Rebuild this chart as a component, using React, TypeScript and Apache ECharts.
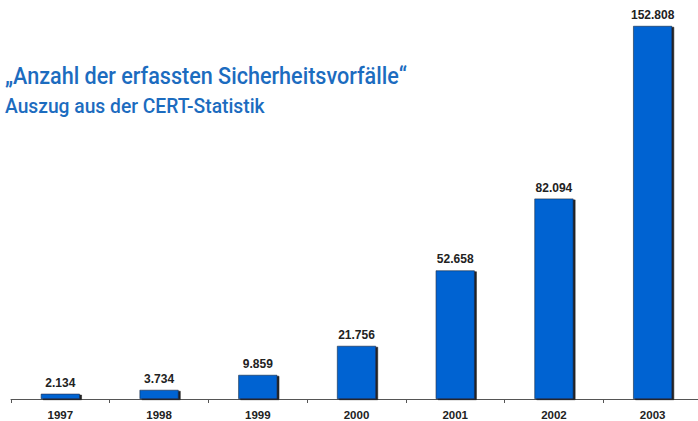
import React, { useEffect, useRef } from "react";
import * as echarts from "echarts";

const categories = ["1997", "1998", "1999", "2000", "2001", "2002", "2003"];
const incidents = [2134, 3734, 9859, 21756, 52658, 82094, 152808];
const titleLine1 = "„Anzahl der erfassten Sicherheitsvorfälle“";
const titleLine2 = "Auszug aus der CERT-Statistik";

const fmt = (v: number) => String(v).replace(/\B(?=(\d{3})+(?!\d))/g, ".");

const TITLE_FONT = "Roboto, 'DejaVu Sans Condensed', sans-serif";

function measure(text: string, size: number, weight: number | string) {
  const c = document.createElement("canvas").getContext("2d");
  if (!c) return text.length * size * 0.5;
  c.font = `${weight} ${size}px ${TITLE_FONT}`;
  return c.measureText(text).width;
}

export default function App() {
  const ref = useRef<HTMLDivElement>(null);
  useEffect(() => {
    if (!ref.current) return;
    const chart = echarts.init(ref.current, null, { renderer: "svg" });
    const w1 = measure(titleLine1, 24, 500);
    const w2 = measure(titleLine2, 21, 500);
    const sx1 = 402 / w1;
    const sx2 = 260 / w2;
    chart.setOption({
      animation: false,
      backgroundColor: "#ffffff",
      graphic: [
        {
          type: "text",
          x: 5,
          y: 76.5,
          scaleX: sx1,
          style: {
            text: titleLine1,
            x: 0,
            y: 0,
            fill: "#1c6cbf",
            font: `500 24px ${TITLE_FONT}`,
            align: "left",
            verticalAlign: "middle",
          },
        },
        {
          type: "text",
          x: 5,
          y: 105.5,
          scaleX: sx2,
          style: {
            text: titleLine2,
            x: 0,
            y: 0,
            fill: "#1c6cbf",
            font: `500 21px ${TITLE_FONT}`,
            align: "left",
            verticalAlign: "middle",
          },
        },
      ],
      grid: { left: 11, top: 8.4, width: 691, height: 391.6, containLabel: false },
      xAxis: {
        type: "category",
        data: categories,
        axisLine: { lineStyle: { color: "#555555", width: 1 } },
        axisTick: { show: true, length: 4, lineStyle: { color: "#555555" } },
        axisLabel: {
          margin: 10,
          color: "#222222",
          fontFamily: "Arial, 'Liberation Sans', sans-serif",
          fontWeight: "bold",
          fontSize: 11.5,
        },
      },
      yAxis: {
        type: "value",
        min: 0,
        max: 160000,
        show: false,
        splitLine: { show: false },
      },
      series: [
        {
          type: "bar",
          data: incidents,
          barWidth: 39,
          itemStyle: {
            color: "#0064d2",
            borderColor: "#1c2a44",
            borderWidth: 0.6,
            shadowColor: "#222222",
            shadowOffsetX: 2,
            shadowOffsetY: 1,
            shadowBlur: 0,
          },
          label: {
            show: true,
            position: "top",
            distance: 5,
            formatter: (p: any) => fmt(p.value),
            color: "#222222",
            fontFamily: "Arial, 'Liberation Sans', sans-serif",
            fontWeight: "bold",
            fontSize: 12,
          },
        },
      ],
    });
    return () => chart.dispose();
  }, []);
  return (
    <div style={{ width: 698, height: 421, position: "absolute", left: 0, top: 0, overflow: "hidden" }}>
      <div ref={ref} style={{ width: 710, height: 421 }} />
    </div>
  );
}
